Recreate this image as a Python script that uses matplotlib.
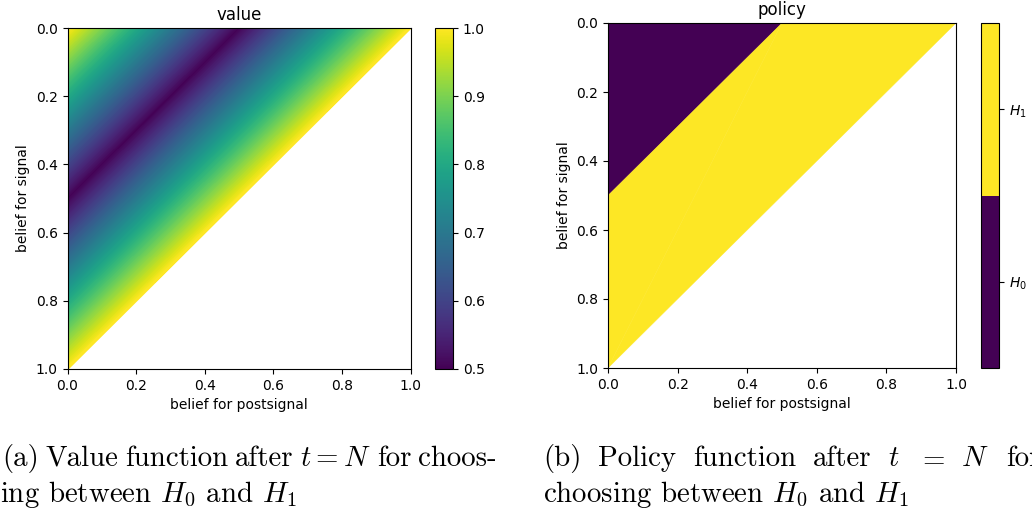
"""
Value and policy functions after t = N, drawn over the belief triangle,
with the two sub-figure captions underneath.
"""

import matplotlib

matplotlib.use("Agg")

import matplotlib.pyplot as plt
import matplotlib.tri as mtri
import numpy as np
from matplotlib.cm import ScalarMappable
from matplotlib.colors import ListedColormap, Normalize

W, H = 1032, 515

# corners of the belief triangle: (postsignal, signal) and the value there
post_pts = [0.0, 0.5, 1.0, 0.0, 0.0]
signal_pts = [0.0, 0.0, 0.0, 0.5, 1.0]
value_pts = [1.0, 0.5, 1.0, 0.5, 1.0]

# cells of the triangle and the chosen hypothesis in each (0 -> H0, 1 -> H1)
tri_cells = [[0, 1, 3], [1, 2, 4], [1, 4, 3]]
policy_cells = [0, 1, 1]

axis_ticks = [0.0, 0.2, 0.4, 0.6, 0.8, 1.0]
value_ticks = [0.5, 0.6, 0.7, 0.8, 0.9, 1.0]
policy_ticks = [0.25, 0.75]
policy_labels = ["$H_0$", "$H_1$"]

caption_a = [
    ["(a)", "Value", "function", "after", "$t = N$", "for", "choos-"],
    "ing between $H_0$ and $H_1$",
]
caption_b = [
    ["(b)", "Policy", "function", "after", "$t$", "$=$", "$N$", "for"],
    "choosing between $H_0$ and $H_1$",
]

CAPTION_FONT = dict(family="cmr10", math_fontfamily="cm", size=20.8)


def px_rect(x0, y0, x1, y1):
    """Pixel box (top-left origin) -> figure fraction rect."""
    return [x0 / W, 1 - y1 / H, (x1 - x0) / W, (y1 - y0) / H]


def style_axes(ax, title):
    ax.set_xlim(0, 1)
    ax.set_ylim(1, 0)
    ax.set_xticks(axis_ticks)
    ax.set_yticks(axis_ticks)
    ax.set_xlabel("belief for postsignal")
    ax.set_ylabel("belief for signal")
    ax.set_title(title, fontsize=12)


def justified_line(fig, renderer, words, x0, x1, y):
    """Spread words over [x0, x1] pixels like a justified TeX line."""
    texts = [fig.text(0, 1 - y / H, w, va="baseline", **CAPTION_FONT) for w in words]
    widths = [t.get_window_extent(renderer).width for t in texts]
    gap = (x1 - x0 - sum(widths)) / (len(words) - 1)
    x = x0
    for t, w in zip(texts, widths):
        t.set_x(x / W)
        x += w + gap


fig = plt.figure(figsize=(W / 100, H / 100), dpi=100)
tri = mtri.Triangulation(post_pts, signal_pts, tri_cells)
viridis = plt.get_cmap("viridis")

# value function
value_norm = Normalize(0.5, 1.0)
ax1 = fig.add_axes(px_rect(67.5, 28, 410.5, 369))
ax1.tricontourf(
    tri,
    value_pts,
    levels=np.linspace(0.5, 1.0, 201),
    cmap="viridis",
    norm=value_norm,
    extend="both",
    antialiased=False,
)
# outer edge of the triangle (value 1 all along it)
ax1.plot(
    [post_pts[2], post_pts[4]],
    [signal_pts[2], signal_pts[4]],
    color=viridis(value_norm(value_pts[2])),
    linewidth=1.6,
)
style_axes(ax1, "value")
cax1 = fig.add_axes(px_rect(435, 28, 453, 369))
fig.colorbar(
    ScalarMappable(norm=value_norm, cmap="viridis"), cax=cax1, ticks=value_ticks
)

# policy
policy_cmap = ListedColormap([viridis(0.0), viridis(1.0)])
ax2 = fig.add_axes(px_rect(608, 23, 956, 368))
ax2.tripcolor(
    tri,
    facecolors=policy_cells,
    cmap=policy_cmap,
    vmin=0,
    vmax=1,
    edgecolors="face",
    linewidth=0.3,
)
style_axes(ax2, "policy")
cax2 = fig.add_axes(px_rect(981, 23, 999, 368))
cb2 = fig.colorbar(
    ScalarMappable(norm=Normalize(0, 1), cmap=policy_cmap),
    cax=cax2,
    ticks=policy_ticks,
)
cb2.set_ticklabels(policy_labels)

# captions
renderer = fig.canvas.get_renderer()
justified_line(fig, renderer, caption_a[0], 2, 497, 466)
fig.text(0, 1 - 502 / H, caption_a[1], va="baseline", **CAPTION_FONT)
justified_line(fig, renderer, caption_b[0], 543, 1040, 466)
fig.text(543 / W, 1 - 502 / H, caption_b[1], va="baseline", **CAPTION_FONT)

fig.savefig("out.png", dpi=100)
